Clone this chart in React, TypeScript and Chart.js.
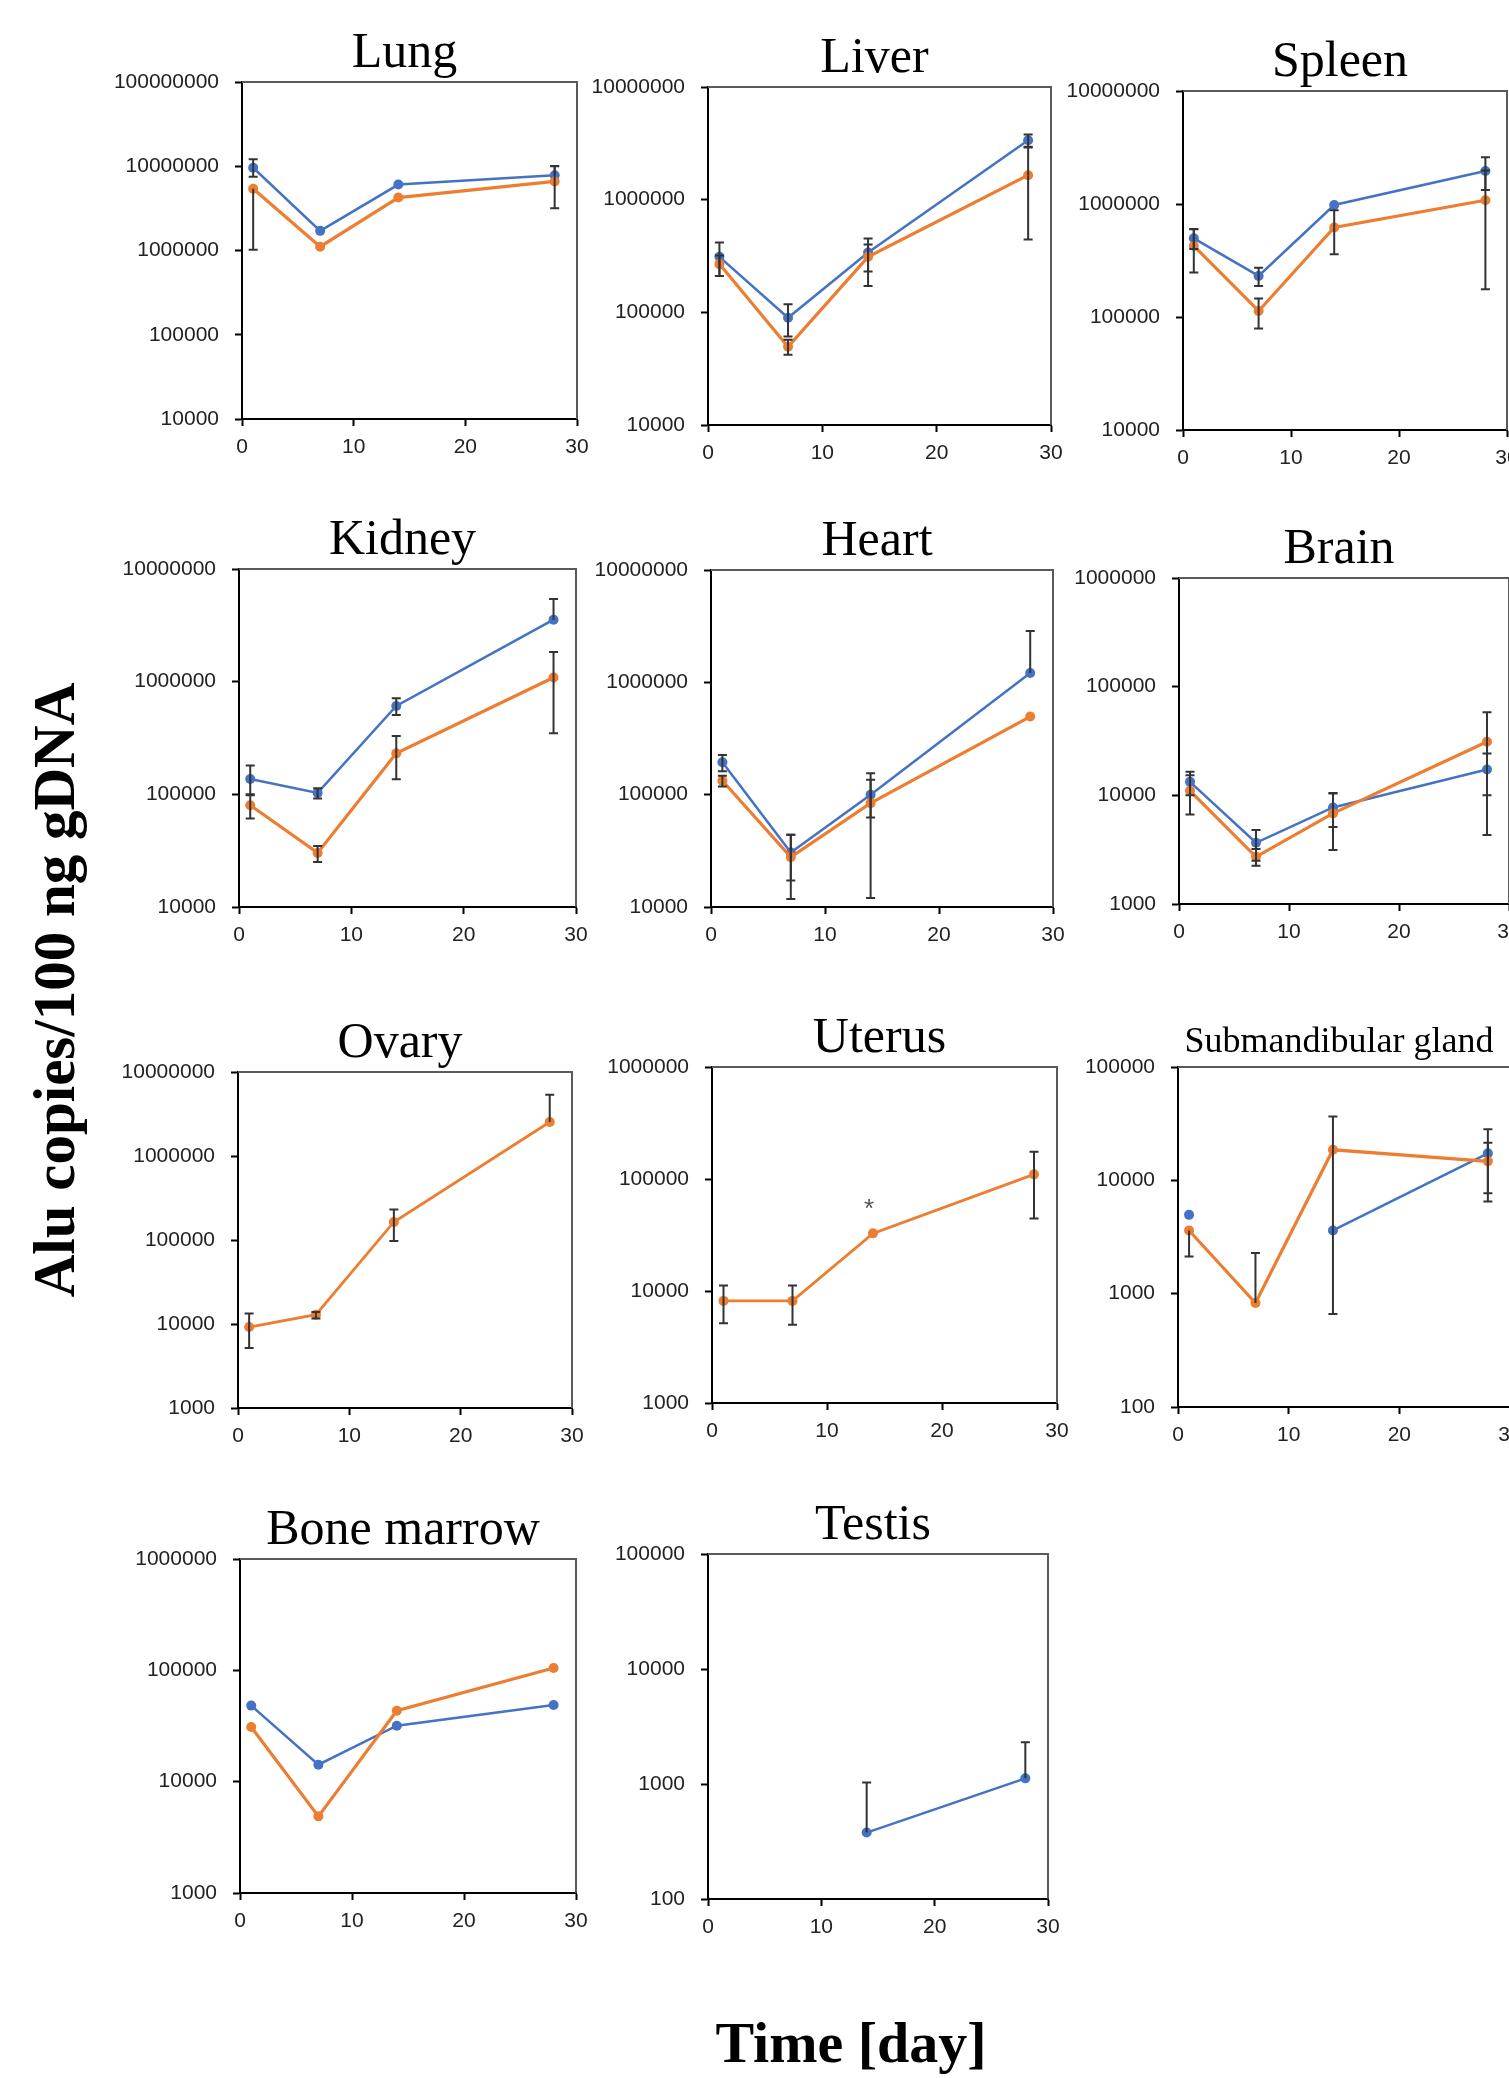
import React, { useEffect, useRef } from "react";
import { Chart, registerables } from "chart.js";
Chart.register(...registerables);

// ---------- data ----------
const DAYS = [1, 7, 14, 28];
const X_TICKS = [0, 10, 20, 30];

const LUNG_Y_TICKS = [1e4, 1e5, 1e6, 1e7, 1e8];
const LUNG_BLUE = [9.6e6, 1.71e6, 6.06e6, 7.8e6];
const LUNG_BLUE_HI = [1.21e7, null, null, 1.01e7];
const LUNG_BLUE_LO = [7.5e6, null, null, null];
const LUNG_ORANGE = [5.4e6, 1.11e6, 4.25e6, 6.6e6];
const LUNG_ORANGE_HI = [null, null, null, 1.0e7];
const LUNG_ORANGE_LO = [1.02e6, null, null, 3.18e6];

const LIVER_Y_TICKS = [1e4, 1e5, 1e6, 1e7];
const LIVER_BLUE = [3.11e5, 8.95e4, 3.4e5, 3.37e6];
const LIVER_BLUE_HI = [4.17e5, 1.18e5, 4.52e5, 3.78e6];
const LIVER_BLUE_LO = [2.1e5, 6.1e4, 2.3e5, 2.95e6];
const LIVER_ORANGE = [2.68e5, 4.95e4, 3.11e5, 1.65e6];
const LIVER_ORANGE_HI = [3.2e5, 5.7e4, 4.0e5, 2.9e6];
const LIVER_ORANGE_LO = [2.1e5, 4.2e4, 1.71e5, 4.43e5];

const SPLEEN_Y_TICKS = [1e4, 1e5, 1e6, 1e7];
const SPLEEN_BLUE = [4.97e5, 2.31e5, 9.8e5, 1.96e6];
const SPLEEN_BLUE_HI = [5.97e5, 2.73e5, null, 2.59e6];
const SPLEEN_BLUE_LO = [4.0e5, 1.88e5, null, 1.33e6];
const SPLEEN_ORANGE = [4.25e5, 1.13e5, 6.2e5, 1.08e6];
const SPLEEN_ORANGE_HI = [6.0e5, 1.46e5, 8.8e5, 1.98e6];
const SPLEEN_ORANGE_LO = [2.48e5, 7.9e4, 3.59e5, 1.76e5];

const KIDNEY_Y_TICKS = [1e4, 1e5, 1e6, 1e7];
const KIDNEY_BLUE = [1.37e5, 1.03e5, 6.09e5, 3.55e6];
const KIDNEY_BLUE_HI = [1.8e5, 1.13e5, 7.13e5, 5.41e6];
const KIDNEY_BLUE_LO = [9.8e4, 9.2e4, 5.07e5, null];
const KIDNEY_ORANGE = [8.0e4, 3.02e4, 2.31e5, 1.09e6];
const KIDNEY_ORANGE_HI = [1.0e5, 3.47e4, 3.3e5, 1.83e6];
const KIDNEY_ORANGE_LO = [6.1e4, 2.51e4, 1.36e5, 3.48e5];

const HEART_Y_TICKS = [1e4, 1e5, 1e6, 1e7];
const HEART_BLUE = [1.94e5, 3.06e4, 9.98e4, 1.21e6];
const HEART_BLUE_HI = [2.26e5, 4.4e4, 1.55e5, 2.87e6];
const HEART_BLUE_LO = [1.62e5, 1.72e4, 6.27e4, null];
const HEART_ORANGE = [1.33e5, 2.78e4, 8.41e4, 4.96e5];
const HEART_ORANGE_HI = [1.47e5, 4.4e4, 1.36e5, null];
const HEART_ORANGE_LO = [1.18e5, 1.18e4, 1.2e4, null];

const BRAIN_Y_TICKS = [1e3, 1e4, 1e5, 1e6];
const BRAIN_BLUE = [1.33e4, 3.66e3, 7.74e3, 1.73e4];
const BRAIN_BLUE_HI = [1.65e4, 4.79e3, 1.04e4, 2.43e4];
const BRAIN_BLUE_LO = [1.0e4, 2.5e3, 5.1e3, 1.0e4];
const BRAIN_ORANGE = [1.1e4, 2.72e3, 6.82e3, 3.11e4];
const BRAIN_ORANGE_HI = [1.53e4, 3.2e3, 1.05e4, 5.82e4];
const BRAIN_ORANGE_LO = [6.67e3, 2.25e3, 3.14e3, 4.31e3];

const OVARY_Y_TICKS = [1e3, 1e4, 1e5, 1e6, 1e7];
const OVARY_ORANGE = [9.2e3, 1.29e4, 1.64e5, 2.54e6];
const OVARY_ORANGE_HI = [1.33e4, 1.39e4, 2.3e5, 5.37e6];
const OVARY_ORANGE_LO = [5.18e3, 1.16e4, 9.73e4, null];

const UTERUS_Y_TICKS = [1e3, 1e4, 1e5, 1e6];
const UTERUS_ORANGE = [8.16e3, 8.16e3, 3.27e4, 1.1e5];
const UTERUS_ORANGE_HI = [1.12e4, 1.12e4, null, 1.75e5];
const UTERUS_ORANGE_LO = [5.16e3, 4.99e3, null, 4.45e4];
const UTERUS_MARK_DAY = 14;
const UTERUS_MARK_TEXT = "*";

const SUBMAND_Y_TICKS = [1e2, 1e3, 1e4, 1e5];
const SUBMAND_BLUE = [4.96e3, null, 3.61e3, 1.73e4];
const SUBMAND_BLUE_HI = [null, null, null, 2.15e4];
const SUBMAND_BLUE_LO = [null, null, null, 7.7e3];
const SUBMAND_ORANGE = [3.61e3, 8.26e2, 1.86e4, 1.47e4];
const SUBMAND_ORANGE_HI = [null, 2.28e3, 3.65e4, 2.82e4];
const SUBMAND_ORANGE_LO = [2.13e3, null, 6.6e2, 6.5e3];

const BONE_Y_TICKS = [1e3, 1e4, 1e5, 1e6];
const BONE_BLUE = [4.82e4, 1.42e4, 3.18e4, 4.88e4];
const BONE_ORANGE = [3.1e4, 4.88e3, 4.34e4, 1.05e5];

const TESTIS_Y_TICKS = [1e2, 1e3, 1e4, 1e5];
const TESTIS_BLUE = [null, null, 378, 1.12e3];
const TESTIS_BLUE_HI = [null, null, 1.03e3, 2.31e3];

const Y_TITLE = "Alu copies/100 ng gDNA";
const X_TITLE = "Time [day]";

// ---------- styles / layout ----------
const BLUE = "#4472C4";
const ORANGE = "#ED7D31";
const ERR = "#333333";
const TICK_FONT = "'Liberation Sans', Arial, sans-serif";
const SERIF = "'Liberation Serif', 'Times New Roman', serif";

const LPAD = 150, TPAD = 80, BPAD = 50, RPAD = 25;
const BLUE_W = 2.5, ORANGE_W = 3.2;

type Series = { color: string; width: number; vals: (number | null)[]; hi?: (number | null)[]; lo?: (number | null)[] };
type Spec = {
  title: string; titleSize: number; box: [number, number, number, number];
  yTicks: number[]; series: Series[]; mark?: { day: number; text: string; series: number };
};

const PANELS: Spec[] = [
  { title: "Lung", titleSize: 50, box: [242, 82, 577, 419], yTicks: LUNG_Y_TICKS,
    series: [
      { color: ORANGE, width: ORANGE_W, vals: LUNG_ORANGE, hi: LUNG_ORANGE_HI, lo: LUNG_ORANGE_LO },
      { color: BLUE, width: BLUE_W, vals: LUNG_BLUE, hi: LUNG_BLUE_HI, lo: LUNG_BLUE_LO },
    ] },
  { title: "Liver", titleSize: 50, box: [708, 87, 1051, 425], yTicks: LIVER_Y_TICKS,
    series: [
      { color: ORANGE, width: ORANGE_W, vals: LIVER_ORANGE, hi: LIVER_ORANGE_HI, lo: LIVER_ORANGE_LO },
      { color: BLUE, width: BLUE_W, vals: LIVER_BLUE, hi: LIVER_BLUE_HI, lo: LIVER_BLUE_LO },
    ] },
  { title: "Spleen", titleSize: 50, box: [1183, 91, 1507, 430], yTicks: SPLEEN_Y_TICKS,
    series: [
      { color: ORANGE, width: ORANGE_W, vals: SPLEEN_ORANGE, hi: SPLEEN_ORANGE_HI, lo: SPLEEN_ORANGE_LO },
      { color: BLUE, width: BLUE_W, vals: SPLEEN_BLUE, hi: SPLEEN_BLUE_HI, lo: SPLEEN_BLUE_LO },
    ] },
  { title: "Kidney", titleSize: 50, box: [239, 569, 576, 907], yTicks: KIDNEY_Y_TICKS,
    series: [
      { color: ORANGE, width: ORANGE_W, vals: KIDNEY_ORANGE, hi: KIDNEY_ORANGE_HI, lo: KIDNEY_ORANGE_LO },
      { color: BLUE, width: BLUE_W, vals: KIDNEY_BLUE, hi: KIDNEY_BLUE_HI, lo: KIDNEY_BLUE_LO },
    ] },
  { title: "Heart", titleSize: 50, box: [711, 570, 1053, 907], yTicks: HEART_Y_TICKS,
    series: [
      { color: ORANGE, width: ORANGE_W, vals: HEART_ORANGE, hi: HEART_ORANGE_HI, lo: HEART_ORANGE_LO },
      { color: BLUE, width: BLUE_W, vals: HEART_BLUE, hi: HEART_BLUE_HI, lo: HEART_BLUE_LO },
    ] },
  { title: "Brain", titleSize: 50, box: [1179, 578, 1509, 904], yTicks: BRAIN_Y_TICKS,
    series: [
      { color: ORANGE, width: ORANGE_W, vals: BRAIN_ORANGE, hi: BRAIN_ORANGE_HI, lo: BRAIN_ORANGE_LO },
      { color: BLUE, width: BLUE_W, vals: BRAIN_BLUE, hi: BRAIN_BLUE_HI, lo: BRAIN_BLUE_LO },
    ] },
  { title: "Ovary", titleSize: 50, box: [238, 1072, 572, 1408], yTicks: OVARY_Y_TICKS,
    series: [
      { color: ORANGE, width: 2.8, vals: OVARY_ORANGE, hi: OVARY_ORANGE_HI, lo: OVARY_ORANGE_LO },
    ] },
  { title: "Uterus", titleSize: 50, box: [712, 1067, 1057, 1403], yTicks: UTERUS_Y_TICKS,
    series: [
      { color: ORANGE, width: 2.8, vals: UTERUS_ORANGE, hi: UTERUS_ORANGE_HI, lo: UTERUS_ORANGE_LO },
    ],
    mark: { day: UTERUS_MARK_DAY, text: UTERUS_MARK_TEXT, series: 0 } },
  { title: "Submandibular gland", titleSize: 36, box: [1178, 1067, 1510, 1407], yTicks: SUBMAND_Y_TICKS,
    series: [
      { color: ORANGE, width: ORANGE_W, vals: SUBMAND_ORANGE, hi: SUBMAND_ORANGE_HI, lo: SUBMAND_ORANGE_LO },
      { color: BLUE, width: BLUE_W, vals: SUBMAND_BLUE, hi: SUBMAND_BLUE_HI, lo: SUBMAND_BLUE_LO },
    ] },
  { title: "Bone marrow", titleSize: 50, box: [240, 1559, 576, 1893], yTicks: BONE_Y_TICKS,
    series: [
      { color: ORANGE, width: ORANGE_W, vals: BONE_ORANGE },
      { color: BLUE, width: BLUE_W, vals: BONE_BLUE },
    ] },
  { title: "Testis", titleSize: 50, box: [708, 1554, 1048, 1899], yTicks: TESTIS_Y_TICKS,
    series: [
      { color: BLUE, width: BLUE_W, vals: TESTIS_BLUE, hi: TESTIS_BLUE_HI },
    ] },
];

function Panel({ spec }: { spec: Spec }) {
  const ref = useRef<HTMLCanvasElement>(null);
  const [l, t, r, b] = spec.box;
  const W = r - l + LPAD + RPAD;
  const H = b - t + TPAD + BPAD;

  useEffect(() => {
    const canvas = ref.current;
    if (!canvas) return;

    const decor = {
      id: "decor",
      beforeDatasetsDraw(chart: any) {
        const { ctx, chartArea: a } = chart;
        ctx.save();
        ctx.strokeStyle = "#5a5a5a";
        ctx.lineWidth = 2;
        ctx.beginPath();
        ctx.moveTo(a.left, a.top);
        ctx.lineTo(a.right, a.top);
        ctx.lineTo(a.right, a.bottom);
        ctx.stroke();
        ctx.restore();
      },
      afterDatasetsDraw(chart: any) {
        const { ctx } = chart;
        const xs = chart.scales.x, ys = chart.scales.y;
        ctx.save();
        ctx.strokeStyle = ERR;
        ctx.lineWidth = 2;
        spec.series.forEach((s) => {
          DAYS.forEach((d, i) => {
            const v = s.vals[i];
            if (v == null) return;
            const px = xs.getPixelForValue(d);
            const py = ys.getPixelForValue(v);
            [s.hi?.[i], s.lo?.[i]].forEach((e) => {
              if (e == null) return;
              const pe = ys.getPixelForValue(e);
              ctx.beginPath();
              ctx.moveTo(px, py);
              ctx.lineTo(px, pe);
              ctx.moveTo(px - 4.5, pe);
              ctx.lineTo(px + 4.5, pe);
              ctx.stroke();
            });
          });
        });
        if (spec.mark) {
          const m = spec.mark;
          const idx = DAYS.indexOf(m.day);
          const v = spec.series[m.series].vals[idx];
          if (v != null) {
            ctx.fillStyle = "#555";
            ctx.font = `26px ${TICK_FONT}`;
            ctx.textAlign = "center";
            ctx.textBaseline = "middle";
            ctx.fillText(m.text, xs.getPixelForValue(m.day) - 4, ys.getPixelForValue(v) - 24);
          }
        }
        ctx.restore();
      },
      afterDraw(chart: any) {
        const { ctx, chartArea: a } = chart;
        ctx.save();
        ctx.fillStyle = "#000";
        ctx.font = `${spec.titleSize}px ${SERIF}`;
        ctx.textAlign = "center";
        ctx.textBaseline = "alphabetic";
        ctx.fillText(spec.title, (a.left + a.right) / 2 - 5, a.top - 15);
        ctx.restore();
      },
    };

    const chart = new Chart(canvas, {
      type: "line",
      data: {
        datasets: spec.series.map((s) => ({
          data: DAYS.map((d, i) => ({ x: d, y: s.vals[i] })),
          borderColor: s.color,
          backgroundColor: s.color,
          borderWidth: s.width,
          pointRadius: 5,
          pointBorderWidth: 0,
          pointBackgroundColor: s.color,
          tension: 0,
          spanGaps: false,
        })),
      },
      options: {
        animation: false,
        responsive: false,
        devicePixelRatio: 1,
        layout: { padding: { top: TPAD, right: RPAD, left: 0, bottom: 0 } },
        plugins: { legend: { display: false }, tooltip: { enabled: false }, title: { display: false } },
        scales: {
          x: {
            type: "linear",
            min: X_TICKS[0],
            max: X_TICKS[X_TICKS.length - 1],
            afterBuildTicks: (s: any) => { s.ticks = X_TICKS.map((v) => ({ value: v })); },
            afterFit: (s: any) => { s.height = BPAD; },
            grid: { drawOnChartArea: false, drawTicks: true, tickLength: 7, tickWidth: 2, tickColor: "#000" },
            border: { display: true, color: "#000", width: 2 },
            ticks: { padding: 9, color: "#222", font: { family: TICK_FONT, size: 21 }, maxRotation: 0, autoSkip: false, callback: (v: any) => String(v) },
          },
          y: {
            type: "logarithmic",
            min: spec.yTicks[0],
            max: spec.yTicks[spec.yTicks.length - 1],
            afterBuildTicks: (s: any) => { s.ticks = spec.yTicks.map((v) => ({ value: v })); },
            afterFit: (s: any) => { s.width = LPAD; },
            grid: { drawOnChartArea: false, drawTicks: true, tickLength: 7, tickWidth: 2, tickColor: "#000" },
            border: { display: true, color: "#000", width: 2 },
            ticks: { padding: 16, color: "#222", font: { family: TICK_FONT, size: 21 }, autoSkip: false, callback: (v: any) => String(Math.round(Number(v))) },
          },
        },
      },
      plugins: [decor],
    } as any);
    return () => chart.destroy();
  }, []);

  return (
    <canvas
      ref={ref}
      width={W}
      height={H}
      style={{ position: "absolute", left: l - LPAD, top: t - TPAD, width: W, height: H, display: "block" }}
    />
  );
}

export default function App() {
  return (
    <div style={{ position: "absolute", left: 0, top: 0, width: 1509, height: 2078, overflow: "hidden", background: "#fff" }}>
      {PANELS.map((p) => (
        <Panel key={p.title} spec={p} />
      ))}
      <div
        style={{
          position: "absolute", left: 54, top: 990, transform: "translate(-50%, -50%) rotate(-90deg)",
          whiteSpace: "nowrap", fontFamily: SERIF, fontWeight: "bold", fontSize: 59, lineHeight: 1, color: "#000",
        }}
      >
        {Y_TITLE}
      </div>
      <div
        style={{
          position: "absolute", left: 851, top: 2014, transform: "translateX(-50%)",
          whiteSpace: "nowrap", fontFamily: SERIF, fontWeight: "bold", fontSize: 58, lineHeight: 1, color: "#000",
        }}
      >
        {X_TITLE}
      </div>
    </div>
  );
}
